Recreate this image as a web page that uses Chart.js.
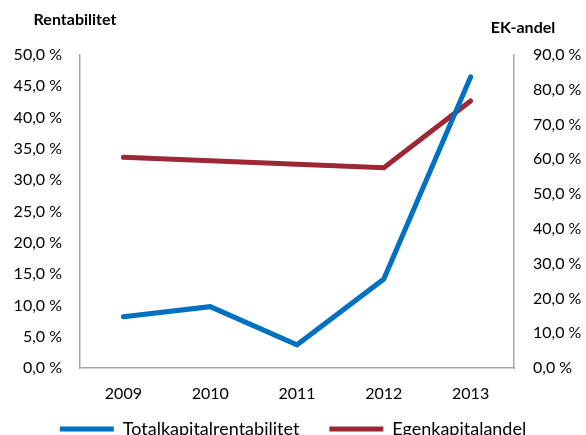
<!DOCTYPE html>
<html>
<head>
<meta charset="utf-8">
<script src="https://cdn.jsdelivr.net/npm/chart.js@4/dist/chart.umd.min.js"></script>
<style>
  html, body { margin: 0; padding: 0; background: #fff; overflow: hidden; }
  #wrap { width: 586px; height: 448px; }
</style>
</head>
<body>
<div id="wrap"><canvas id="chart_root" width="586" height="448"></canvas></div>
<script>
const years = ['2009', '2010', '2011', '2012', '2013'];
const totalkapitalrentabilitet = [8.2, 9.8, 3.7, 14.2, 46.5];
const egenkapitalandel = [60.6, 59.6, 58.6, 57.6, 76.8];

const fontFamily = 'Lato, "Open Sans", sans-serif';
const pct = (v) => v.toFixed(1).replace('.', ',') + ' %';

// axis titles above the two y axes
const axisTitles = {
  id: 'axisTitles',
  afterDraw(chart) {
    const ctx = chart.ctx;
    ctx.save();
    ctx.font = 'bold 16px ' + fontFamily;
    ctx.fillStyle = '#000';
    ctx.textAlign = 'center';
    ctx.textBaseline = 'middle';
    ctx.fillText('Rentabilitet', 75, 20);
    ctx.fillText('EK-andel', 523, 28);
    ctx.restore();
  }
};

// keep the wide gap between legend items but pull the legend up tight
const legendTight = {
  id: 'legendTight',
  beforeLayout(chart) {
    const lg = chart.legend;
    if (lg && !lg._tight) {
      const fit = lg.fit.bind(lg);
      lg.fit = () => { fit(); lg.height = 38; };
      lg._tight = true;
    }
  },
  afterLayout(chart) {
    chart.legend.top -= 20;
  }
};

new Chart(document.getElementById('chart_root'), {
  type: 'line',
  data: {
    labels: years,
    datasets: [
      {
        label: 'Totalkapitalrentabilitet',
        data: totalkapitalrentabilitet,
        borderColor: '#0070c0',
        backgroundColor: '#0070c0',
        borderWidth: 5,
        borderCapStyle: 'round',
        pointRadius: 0,
        pointStyle: 'line',
        yAxisID: 'y'
      },
      {
        label: 'Egenkapitalandel',
        data: egenkapitalandel,
        borderColor: '#9e2735',
        backgroundColor: '#9e2735',
        borderWidth: 5,
        borderCapStyle: 'round',
        pointRadius: 0,
        pointStyle: 'line',
        yAxisID: 'y1'
      }
    ]
  },
  options: {
    responsive: false,
    animation: false,
    layout: { padding: { top: 55, left: 0, right: 0, bottom: 0 } },
    plugins: {
      tooltip: { enabled: false },
      legend: {
        position: 'bottom',
        labels: {
          usePointStyle: true,
          pointStyleWidth: 54,
          padding: 30,
          color: '#000',
          font: { family: fontFamily, size: 18 }
        }
      }
    },
    scales: {
      x: {
        offset: true,
        grid: { display: false, drawTicks: false },
        border: { display: true, color: '#a6a6a6', width: 1.5 },
        ticks: { color: '#000', padding: 16, font: { family: fontFamily, size: 16 } },
        afterFit: (s) => { s.height = 42; }
      },
      y: {
        position: 'left',
        min: 0,
        max: 50,
        grid: { display: false, drawTicks: false },
        border: { display: true, color: '#a6a6a6', width: 1.5 },
        ticks: {
          stepSize: 5,
          padding: 18,
          color: '#000',
          font: { family: fontFamily, size: 16 },
          callback: (v) => pct(v)
        },
        afterFit: (s) => { s.width = 80; }
      },
      y1: {
        position: 'right',
        min: 0,
        max: 90,
        grid: { display: false, drawTicks: false },
        border: { display: true, color: '#a6a6a6', width: 1.5 },
        ticks: {
          stepSize: 10,
          padding: 19,
          color: '#000',
          font: { family: fontFamily, size: 16 },
          callback: (v) => pct(v)
        },
        afterFit: (s) => { s.width = 72; }
      }
    }
  },
  plugins: [axisTitles, legendTight]
});
</script>
</body>
</html>
